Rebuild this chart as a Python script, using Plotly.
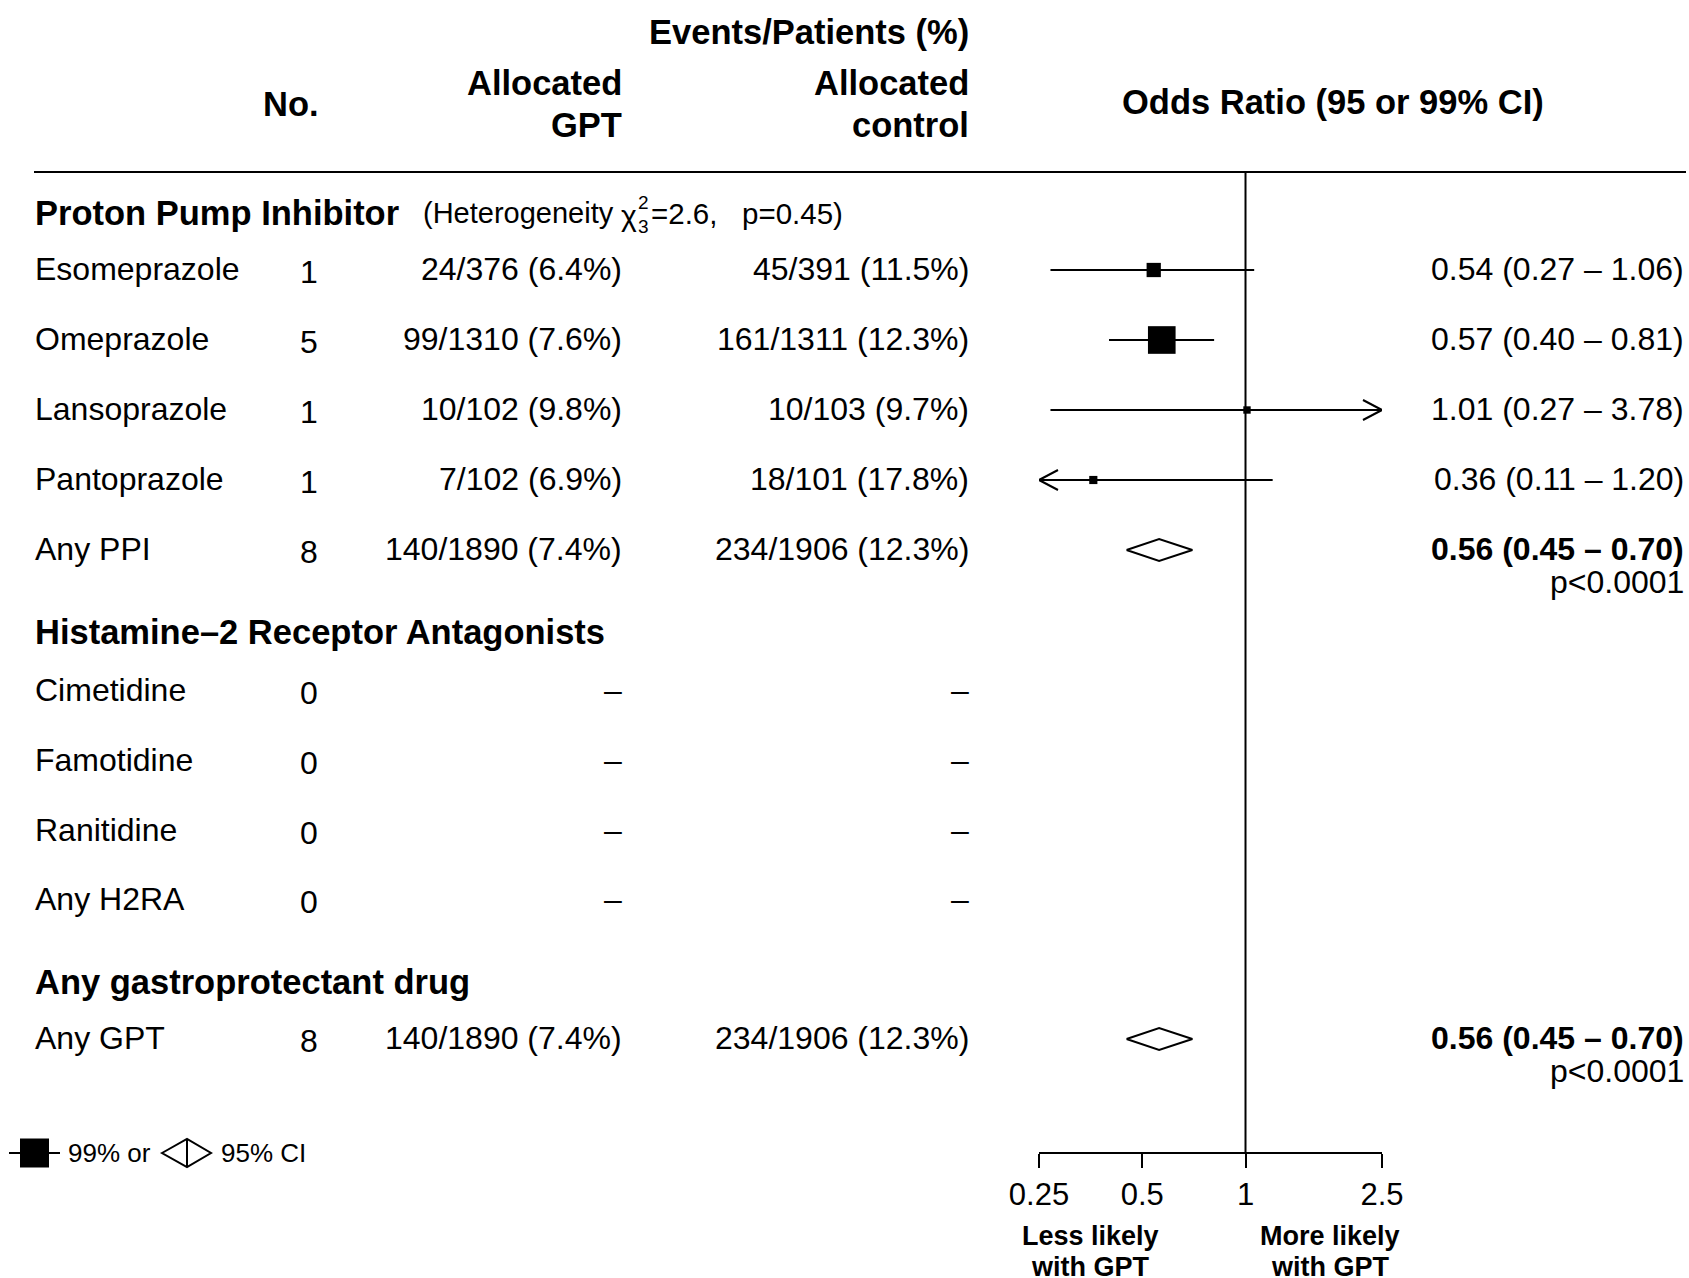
import math
import plotly.graph_objects as go

W, H = 1689, 1278
FONT = "Liberation Sans, Arial, Helvetica, sans-serif"

# ---------------- data ----------------
row_names = ["Esomeprazole", "Omeprazole", "Lansoprazole", "Pantoprazole", "Any PPI",
             "Cimetidine", "Famotidine", "Ranitidine", "Any H2RA", "Any GPT"]
n_trials = [1, 5, 1, 1, 8, 0, 0, 0, 0, 8]
gpt_events = [24, 99, 10, 7, 140, None, None, None, None, 140]
gpt_patients = [376, 1310, 102, 102, 1890, None, None, None, None, 1890]
gpt_pct = [6.4, 7.6, 9.8, 6.9, 7.4, None, None, None, None, 7.4]
ctrl_events = [45, 161, 10, 18, 234, None, None, None, None, 234]
ctrl_patients = [391, 1311, 103, 101, 1906, None, None, None, None, 1906]
ctrl_pct = [11.5, 12.3, 9.7, 17.8, 12.3, None, None, None, None, 12.3]
or_est = [0.54, 0.57, 1.01, 0.36, 0.56, None, None, None, None, 0.56]
or_low = [0.27, 0.40, 0.27, 0.11, 0.45, None, None, None, None, 0.45]
or_high = [1.06, 0.81, 3.78, 1.20, 0.70, None, None, None, None, 0.70]
is_total = [False, False, False, False, True, False, False, False, True, True]
p_text = [None, None, None, None, "p<0.0001", None, None, None, None, "p<0.0001"]

group_titles = ["Proton Pump Inhibitor", "Histamine\u20132 Receptor Antagonists",
                "Any gastroprotectant drug"]
het_chi2, het_df, het_p = "2.6", "3", "0.45"

axis_ticks = [0.25, 0.5, 1, 2.5]
axis_tick_labels = ["0.25", "0.5", "1", "2.5"]

# ---------------- layout positions (pixels) ----------------
row_y = [270, 340, 410, 480, 550, 691, 761, 831, 900, 1039]
group_y = [213, 632, 982]
name_x, no_x, gpt_x, ctrl_x, ortext_x = 35, 309, 622, 969, 1684
axis_y, top_rule_y = 1153, 172
x_lo_lim, x_hi_lim = axis_ticks[0], axis_ticks[-1]
plot_x0, plot_x1 = 1039, 1382

annotations = []
shapes = []


def txt(x, y, s, size=32, anchor="left", bold=False):
    annotations.append(dict(
        x=x, y=y, xref="x2", yref="y", text=(f"<b>{s}</b>" if bold else s),
        showarrow=False, xanchor=anchor, yanchor="middle", borderpad=0, borderwidth=0,
        font=dict(size=size, color="black", family=FONT)))


# column headers
txt(ctrl_x, 32, "Events/Patients (%)", 34.5, "right", True)
txt(gpt_x, 83, "Allocated", 34.5, "right", True)
txt(gpt_x, 125, "GPT", 34.5, "right", True)
txt(ctrl_x, 83, "Allocated", 34.5, "right", True)
txt(ctrl_x, 125, "control", 34.5, "right", True)
txt(291, 104, "No.", 34.5, "center", True)
txt(1333, 102, "Odds Ratio (95 or 99% CI)", 34.5, "center", True)

# group titles
for gt, gy in zip(group_titles, group_y):
    txt(name_x, gy, gt, 34.5, "left", True)

# heterogeneity note
txt(423, group_y[0], "(Heterogeneity", 29, "left")
txt(621, group_y[0] + 2, "\u03c7", 30, "left")
txt(643, group_y[0] - 11, "2", 19, "center")
txt(643, group_y[0] + 13, het_df, 19, "center")
txt(651, group_y[0], f"={het_chi2},&nbsp;&nbsp;&nbsp;p={het_p})", 29.5, "left")

# row texts
for i, nm in enumerate(row_names):
    y = row_y[i] - 1
    txt(name_x, y, nm, 32, "left")
    txt(no_x, y + 3, str(n_trials[i]), 32, "center")
    if gpt_events[i] is None:
        txt(gpt_x, y, "\u2013", 32, "right")
        txt(ctrl_x, y, "\u2013", 32, "right")
    else:
        txt(gpt_x, y, f"{gpt_events[i]}/{gpt_patients[i]} ({gpt_pct[i]:.1f}%)", 32, "right")
        txt(ctrl_x, y, f"{ctrl_events[i]}/{ctrl_patients[i]} ({ctrl_pct[i]:.1f}%)", 32, "right")
    if or_est[i] is not None:
        s = f"{or_est[i]:.2f} ({or_low[i]:.2f} \u2013 {or_high[i]:.2f})"
        txt(ortext_x, y, s, 32, "right", is_total[i])
    if p_text[i]:
        txt(ortext_x, y + 33, p_text[i], 32, "right")

# ---------------- forest marks ----------------
fig = go.Figure()

ci_x, ci_y = [], []
sq_x, sq_y, sq_size = [], [], []
for i in range(len(row_names)):
    if or_est[i] is None or is_total[i]:
        continue
    lo = max(or_low[i], x_lo_lim)
    hi = min(or_high[i], x_hi_lim)
    ci_x += [lo, hi, None]
    ci_y += [row_y[i], row_y[i], None]
    sq_x.append(or_est[i])
    sq_y.append(row_y[i])
    sq_size.append(19.5 / math.log(or_high[i] / or_low[i]))
    if or_high[i] > x_hi_lim:
        shapes.append(dict(type="path", xref="x", yref="y", xsizemode="pixel", ysizemode="pixel",
                           xanchor=x_hi_lim, yanchor=row_y[i], path="M-19,10 L0,0 L-19,-10",
                           line=dict(color="black", width=2)))
    if or_low[i] < x_lo_lim:
        shapes.append(dict(type="path", xref="x", yref="y", xsizemode="pixel", ysizemode="pixel",
                           xanchor=x_lo_lim, yanchor=row_y[i], path="M19,10 L0,0 L19,-10",
                           line=dict(color="black", width=2)))

fig.add_trace(go.Scatter(x=ci_x, y=ci_y, mode="lines", line=dict(color="#000000", width=2),
                         xaxis="x", yaxis="y", hoverinfo="skip", cliponaxis=False, opacity=1))
fig.add_trace(go.Scatter(x=sq_x, y=sq_y, mode="markers",
                         marker=dict(symbol="square", size=sq_size, color="#000000", opacity=1,
                                     line=dict(width=0)),
                         xaxis="x", yaxis="y", cliponaxis=False, opacity=1, hoverinfo="skip"))

for i in range(len(row_names)):
    if or_est[i] is None or not is_total[i]:
        continue
    y = row_y[i]
    fig.add_trace(go.Scatter(
        x=[or_low[i], or_est[i], or_high[i], or_est[i], or_low[i]],
        y=[y, y - 11, y, y + 11, y], mode="lines", fill="toself", fillcolor="white",
        line=dict(color="black", width=2), xaxis="x", yaxis="y", hoverinfo="skip"))

# reference line at OR = 1
shapes.append(dict(type="line", xref="x", yref="y", x0=1, x1=1, y0=top_rule_y, y1=axis_y,
                   line=dict(color="black", width=2), layer="below"))
# top rule
shapes.append(dict(type="line", xref="x2", yref="y", x0=34, x1=1686, y0=top_rule_y, y1=top_rule_y,
                   line=dict(color="black", width=2)))

# axis direction captions
txt(1090, 1236, "Less likely", 27, "center", True)
txt(1090, 1267, "with GPT", 27, "center", True)
txt(1330, 1236, "More likely", 27, "center", True)
txt(1330, 1267, "with GPT", 27, "center", True)

# legend
shapes.append(dict(type="line", xref="x2", yref="y", x0=9, x1=60, y0=axis_y, y1=axis_y,
                   line=dict(color="black", width=2)))
shapes.append(dict(type="rect", xref="x2", yref="y", x0=20, x1=49, y0=axis_y - 14.5, y1=axis_y + 14.5,
                   fillcolor="black", line=dict(width=0)))
shapes.append(dict(type="path", xref="x2", yref="y",
                   path=f"M162,{axis_y} L187,{axis_y - 14} L211,{axis_y} L187,{axis_y + 14} Z",
                   fillcolor="white", line=dict(color="black", width=2)))
shapes.append(dict(type="line", xref="x2", yref="y", x0=187, x1=187, y0=axis_y - 14, y1=axis_y + 14,
                   line=dict(color="black", width=2)))
txt(68, axis_y, "99% or", 26, "left")
txt(221, axis_y, "95% CI", 26, "left")

fig.update_layout(
    width=W, height=H, margin=dict(l=0, r=0, t=0, b=0, pad=0, autoexpand=False),
    paper_bgcolor="white", plot_bgcolor="rgba(0,0,0,0)", showlegend=False,
    font=dict(family=FONT, color="black"),
    xaxis=dict(type="log", range=[math.log10(x_lo_lim), math.log10(x_hi_lim)],
               domain=[plot_x0 / W, plot_x1 / W], anchor="free", position=1 - axis_y / H,
               showline=True, linecolor="black", linewidth=2, ticks="outside", ticklen=14,
               tickwidth=2, tickcolor="black", tickvals=axis_ticks, ticktext=axis_tick_labels,
               tickfont=dict(size=31, color="black", family=FONT), showgrid=False, zeroline=False,
               fixedrange=True, automargin=False),
    xaxis2=dict(range=[0, W], domain=[0, 1], anchor="y", visible=False, fixedrange=True,
                automargin=False),
    yaxis=dict(range=[H, 0], domain=[0, 1], visible=False, fixedrange=True, automargin=False),
    annotations=annotations, shapes=shapes,
)
# make the (x2, y) subplot exist
fig.add_trace(go.Scatter(x=[None], y=[None], xaxis="x2", yaxis="y", showlegend=False))

fig.write_html("out.html", config={"displayModeBar": False},
               post_script="document.body.style.margin='0';document.body.style.overflow='hidden';")
